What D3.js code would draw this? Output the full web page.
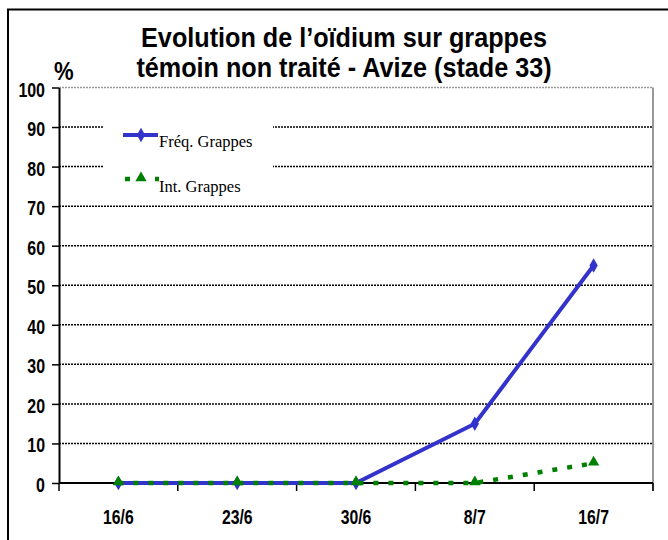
<!DOCTYPE html>
<html>
<head>
<meta charset="utf-8">
<script src="https://d3js.org/d3.v7.min.js"></script>
<style>
  body { margin: 0; background: #fff; }
</style>
</head>
<body>
<svg class="target" width="668" height="540"></svg>
<script>

// data
const dates = ['16/6', '23/6', '30/6', '8/7', '16/7']
const freqGrappes = [0, 0, 0, 15, 55]     // Fréq. Grappes
const intGrappes = [0, 0, 0, 0, 5]        // Int. Grappes
const yTicks = [0, 10, 20, 30, 40, 50, 60, 70, 80, 90, 100]

const titleLines = ['Evolution de l\u2019oïdium sur grappes', 'témoin non traité - Avize (stade 33)']

const sans = "'Liberation Sans', Arial, sans-serif"
const serif = "'Liberation Serif', 'DejaVu Serif', serif"

const plot = { left: 59, right: 653, top: 87.5, bottom: 483 }

const svg = d3.select('.target')

// outer frame (runs off the right and bottom edge)
svg.append('rect')
    .attr('x', 8).attr('y', 9.5)
    .attr('width', 700).attr('height', 600)
    .attr('fill', 'none')
    .attr('stroke', '#000')
    .attr('stroke-width', 2)

const x = d3.scaleBand()
    .domain(dates)
    .range([plot.left, plot.right])

const y = d3.scaleLinear()
    .domain([0, 100])
    .range([plot.bottom, plot.top])

const cx = d => x(d) + x.bandwidth() / 2

// narrow bold text: the original uses a condensed face, so squeeze it
function narrowText(sel, px, sx) {
  return sel
    .style('font-family', sans)
    .style('font-weight', 'bold')
    .style('font-size', px + 'px')
}

// gridlines, black dotted
svg.append('g')
  .selectAll('line')
  .data(yTicks.filter(t => t > 0 && t < 100))
  .join('line')
    .attr('x1', plot.left).attr('x2', plot.right)
    .attr('y1', d => y(d)).attr('y2', d => y(d))
    .attr('stroke', '#000')
    .attr('stroke-width', 1.5)
    .attr('stroke-dasharray', '2,1')

// plot border top (grey dotted) + right (grey)
svg.append('line')
    .attr('x1', plot.left).attr('x2', plot.right)
    .attr('y1', y(100)).attr('y2', y(100))
    .attr('stroke', '#999')
    .attr('stroke-width', 1.5)
    .attr('stroke-dasharray', '2,1')
svg.append('line')
    .attr('x1', plot.right).attr('x2', plot.right)
    .attr('y1', y(100)).attr('y2', plot.bottom + 8)
    .attr('stroke', '#999')
    .attr('stroke-width', 2)

// y axis
const yAxis = svg.append('g')
    .attr('transform', `translate(${plot.left},0)`)
    .call(d3.axisLeft(y).tickValues(yTicks).tickSize(7).tickSizeOuter(0).tickFormat(''))
yAxis.select('.domain').attr('stroke-width', 2)
yAxis.selectAll('.tick line').attr('stroke-width', 1.5)

svg.append('g')
  .selectAll('text')
  .data(yTicks)
  .join('text')
    .attr('transform', d => `translate(45,${y(d) + 9}) scale(0.76,1)`)
    .attr('text-anchor', 'end')
    .call(narrowText, 21)
    .text(d => d)

// x axis, ticks between categories
const xAxis = svg.append('g')
    .attr('transform', `translate(0,${plot.bottom})`)
xAxis.append('line')
    .attr('x1', plot.left).attr('x2', plot.right)
    .attr('stroke', '#000').attr('stroke-width', 2)
xAxis.selectAll('line.tk')
  .data(dates.map(d => x(d)).concat([plot.right]))
  .join('line')
    .attr('class', 'tk')
    .attr('x1', d => d).attr('x2', d => d)
    .attr('y1', 0).attr('y2', 8)
    .attr('stroke', '#000').attr('stroke-width', 1.5)
xAxis.selectAll('text')
  .data(dates)
  .join('text')
    .attr('transform', d => `translate(${cx(d)},41) scale(0.75,1)`)
    .attr('text-anchor', 'middle')
    .call(narrowText, 21)
    .text(d => d)

// legend box hides the gridlines
svg.append('rect')
    .attr('x', 103).attr('y', 108)
    .attr('width', 170).attr('height', 90)
    .attr('fill', '#fff')

const line = d3.line()
    .x((d, i) => cx(dates[i]))
    .y(d => y(d))

const blue = '#3333cc'
const green = '#008000'

const diamond = d3.symbol().type(d3.symbolDiamond).size(60)
const triangle = d3.symbol().type(d3.symbolTriangle).size(55)

// Fréq. Grappes
svg.append('path')
    .datum(freqGrappes)
    .attr('d', line)
    .attr('fill', 'none')
    .attr('stroke', blue)
    .attr('stroke-width', 4)
svg.append('g')
  .selectAll('path')
  .data(freqGrappes)
  .join('path')
    .attr('d', diamond)
    .attr('transform', (d, i) => `translate(${cx(dates[i])},${y(d)})`)
    .attr('fill', blue)

// Int. Grappes
svg.append('path')
    .datum(intGrappes)
    .attr('d', line)
    .attr('fill', 'none')
    .attr('stroke', green)
    .attr('stroke-width', 4.5)
    .attr('stroke-dasharray', '5,10')
svg.append('g')
  .selectAll('path')
  .data(intGrappes)
  .join('path')
    .attr('d', triangle)
    .attr('transform', (d, i) => `translate(${cx(dates[i])},${y(d) - 1})`)
    .attr('fill', green)

// legend
const legend = svg.append('g')
legend.append('line')
    .attr('x1', 123).attr('x2', 158)
    .attr('y1', 135).attr('y2', 135)
    .attr('stroke', blue).attr('stroke-width', 4)
legend.append('path')
    .attr('d', diamond)
    .attr('transform', 'translate(141,135)')
    .attr('fill', blue)
legend.append('text')
    .attr('x', 159).attr('y', 147)
    .style('font-family', serif)
    .style('font-size', '16.5px')
    .text('Fréq. Grappes')

legend.append('line')
    .attr('x1', 125).attr('x2', 159)
    .attr('y1', 179).attr('y2', 179)
    .attr('stroke', green).attr('stroke-width', 4.5)
    .attr('stroke-dasharray', '5,25')
legend.append('path')
    .attr('d', triangle)
    .attr('transform', 'translate(141,178)')
    .attr('fill', green)
legend.append('text')
    .attr('x', 159).attr('y', 192)
    .style('font-family', serif)
    .style('font-size', '16.5px')
    .text('Int. Grappes')

// title
svg.append('g')
  .selectAll('text')
  .data(titleLines)
  .join('text')
    .attr('transform', (d, i) => `translate(344,${46.5 + i * 30}) scale(0.9,1)`)
    .attr('text-anchor', 'middle')
    .call(narrowText, 28)
    .text(d => d)

svg.append('text')
    .attr('transform', 'translate(54,80) scale(0.85,1)')
    .call(narrowText, 26)
    .text('%')

</script>
</body>
</html>
